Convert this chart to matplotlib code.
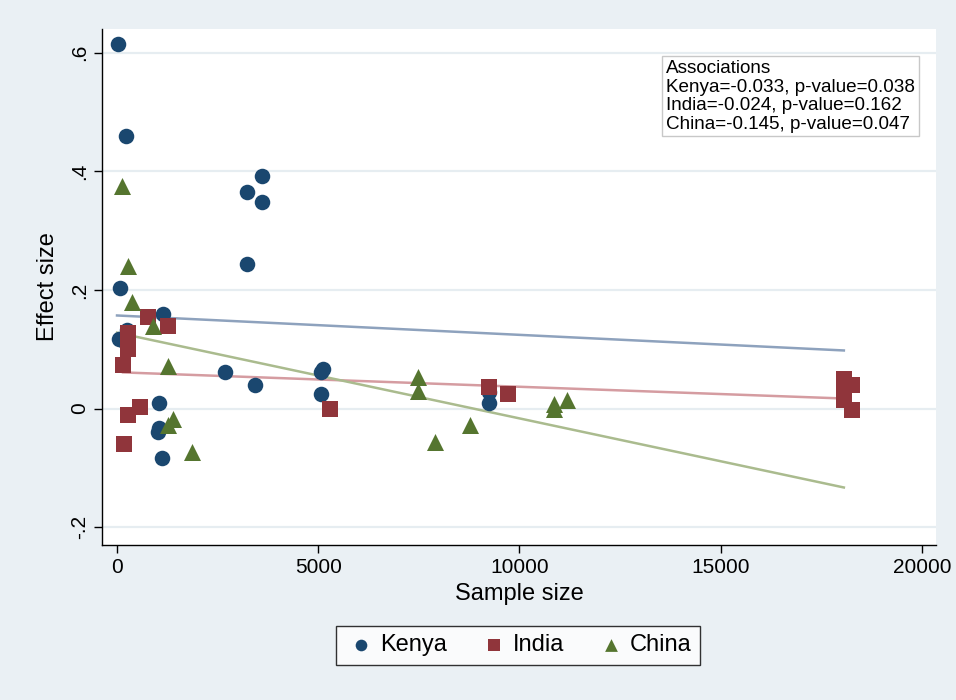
import numpy as np
import matplotlib
matplotlib.use("Agg")
import matplotlib.pyplot as plt

plt.rcParams['font.family'] = ['Liberation Sans', 'DejaVu Sans']

# data
kenya_x = [25, 224, 75, 249, 50, 200, 1144, 1045, 1020, 1045, 1119, 2687, 3433,
           5075, 5124, 5075, 3607, 3234, 3607, 3234, 9254, 9254]
kenya_y = [0.614, 0.459, 0.203, 0.132, 0.118, 0.113, 0.159, 0.010, -0.039, -0.032,
           -0.084, 0.062, 0.040, 0.062, 0.066, 0.025, 0.392, 0.365, 0.348, 0.243,
           0.028, 0.009]

india_x = [771, 1269, 274, 274, 149, 572, 274, 174, 5299, 9254, 9727,
           18060, 18260, 18060, 18060, 18260]
india_y = [0.154, 0.140, 0.128, 0.100, 0.074, 0.003, -0.010, -0.059, 0.0, 0.037,
           0.024, 0.050, 0.040, 0.025, 0.015, -0.002]

china_x = [124, 274, 373, 896, 1269, 1393, 1269, 1866, 7488, 7488, 7911, 8781,
           10846, 10846, 11169]
china_y = [0.376, 0.240, 0.179, 0.140, 0.071, -0.017, -0.027, -0.074, 0.054, 0.029,
           -0.057, -0.027, 0.008, 0.000, 0.015]

# fitted lines (endpoints)
kenya_fit_x = [0, 18060]
kenya_fit_y = [0.157, 0.098]
india_fit_x = [149, 18060]
india_fit_y = [0.061, 0.017]
china_fit_x = [0, 18060]
china_fit_y = [0.128, -0.133]

assoc_text = ("Associations\n"
              "Kenya=-0.033, p-value=0.038\n"
              "India=-0.024, p-value=0.162\n"
              "China=-0.145, p-value=0.047")

bg = "#eaf0f4"
fig = plt.figure(figsize=(9.56, 7.0), dpi=100, facecolor=bg)
ax = fig.add_axes([0.1067, 0.2214, 0.8724, 0.7372])
ax.set_facecolor("white")

ax.plot(kenya_fit_x, kenya_fit_y, color="#8ea2bd", lw=1.8, zorder=2)
ax.plot(india_fit_x, india_fit_y, color="#d59ca1", lw=1.8, zorder=2)
ax.plot(china_fit_x, china_fit_y, color="#aabb8e", lw=1.8, zorder=2)

ax.scatter(kenya_x, kenya_y, s=125, marker="o", color="#1a476f", label="Kenya", zorder=3, linewidths=0)
ax.scatter(india_x, india_y, s=125, marker="s", color="#90353b", label="India", zorder=3, linewidths=0)
ax.scatter(china_x, china_y, s=150, marker="^", color="#55752f", label="China", zorder=3, linewidths=0)

ax.set_xlim(-373, 20350)
ax.set_ylim(-0.23, 0.64)
ax.set_xticks([0, 5000, 10000, 15000, 20000])
ax.set_yticks([-0.2, 0, 0.2, 0.4, 0.6])
ax.set_yticklabels(["-.2", "0", ".2", ".4", ".6"], rotation=90, va="center")
ax.tick_params(labelsize=15, length=6, width=1, color="black")
ax.grid(axis="y", color="#e6edf1", lw=1.6, zorder=0)
ax.set_axisbelow(True)
for side in ["top", "right"]:
    ax.spines[side].set_visible(False)
for side in ["left", "bottom"]:
    ax.spines[side].set_linewidth(1.0)

ax.set_xlabel("Sample size", fontsize=17, labelpad=4)
ax.set_ylabel("Effect size", fontsize=17, labelpad=8)

ax.text(0.676, 0.94, assoc_text, transform=ax.transAxes, fontsize=13.6,
        va="top", ha="left", linespacing=1.12, zorder=5,
        bbox=dict(boxstyle="square,pad=0.2", fc="white", ec="#c8c8c8", lw=1))

leg = fig.legend(loc="center", bbox_to_anchor=(0.542, 0.078), ncol=3, fontsize=17,
                 frameon=True, fancybox=False, edgecolor="black", handletextpad=0.1,
                 columnspacing=1.3, borderpad=0.35, markerscale=0.75, handlelength=1.4)
leg.get_frame().set_linewidth(1.0)

fig.savefig("out.png", dpi=100, facecolor=bg)
